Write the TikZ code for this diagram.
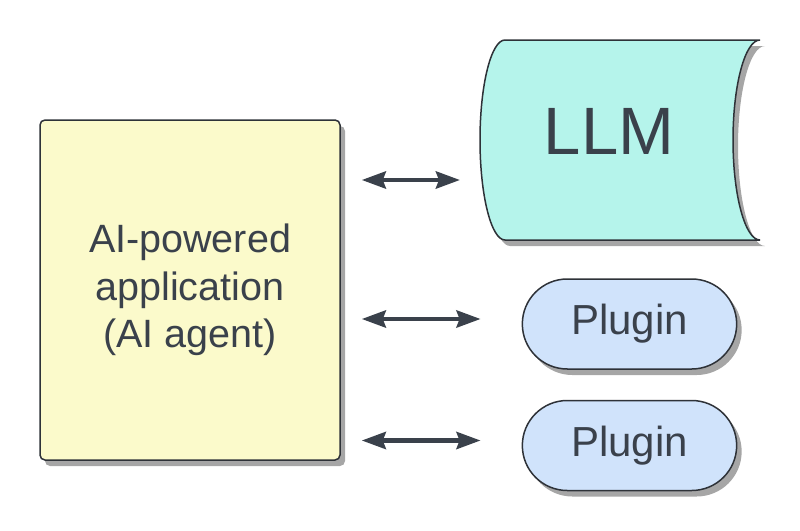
\documentclass[tikz,border=0pt]{standalone}
\usepackage{fontspec}
\setmainfont{Liberation Sans}
\usetikzlibrary{positioning, arrows.meta, shapes.misc, shadows, calc}
\definecolor{ink}{HTML}{3A414B}
\definecolor{edgecol}{HTML}{2E3238}
\definecolor{appfill}{HTML}{FBFACB}
\definecolor{llmfill}{HTML}{B5F4EB}
\definecolor{plugfill}{HTML}{D0E3FB}
\tikzset{
    box/.style={draw=edgecol, line width=1.5pt, text=ink, drop shadow={shadow xshift=5pt, shadow yshift=-6pt, opacity=0.35, fill=black}}, % common look of all boxes
    app/.style={box, fill=appfill, rounded corners=5pt, minimum width=300pt, minimum height=340pt, align=center, font=\fontsize{39.5}{47.5}\selectfont},
    plugin/.style={box, rounded rectangle, fill=plugfill, minimum width=221pt, minimum height=90pt, font=\fontsize{42}{50}\selectfont},
    link/.style={<->, draw=ink, line width=4.5pt, shorten <=21pt}, % the double arrows
    >={Stealth[length=24pt, width=17pt, inset=3pt]},
}
\begin{document}
\begin{tikzpicture}[x=1pt, y=-1pt]
    \useasboundingbox (0,0) rectangle (800,530);
    \node[app] (app) at (190,290) {AI-powered\\application\\(AI agent)};
    % stored data shape of the model
    \path[box, fill=llmfill] (505,40) -- (760,40)
        arc[start angle=90, end angle=270, x radius=27pt, y radius=100pt]
        -- (505,240)
        arc[start angle=270, end angle=90, x radius=25pt, y radius=100pt] -- cycle;
    \node[text=ink, font=\fontsize{67}{70}\selectfont] (llm) at (609,131) {LLM};
    \coordinate (llmedge) at (482,180);
    \node[plugin] (plug1) at (629.5,324) {Plugin};
    \node[plugin, below=30pt of plug1] (plug2) {Plugin};
    \draw[link, shorten >=22pt] (app.east |- llmedge) -- (llmedge);
    \draw[link, shorten >=41pt] ($(app.east |- plug1.west)+(0,-5)$) -- ($(plug1.west)+(0,-5)$);
    \draw[link, shorten >=41pt] ($(app.east |- plug2.west)+(0,-5)$) -- ($(plug2.west)+(0,-5)$);
\end{tikzpicture}
\end{document}
